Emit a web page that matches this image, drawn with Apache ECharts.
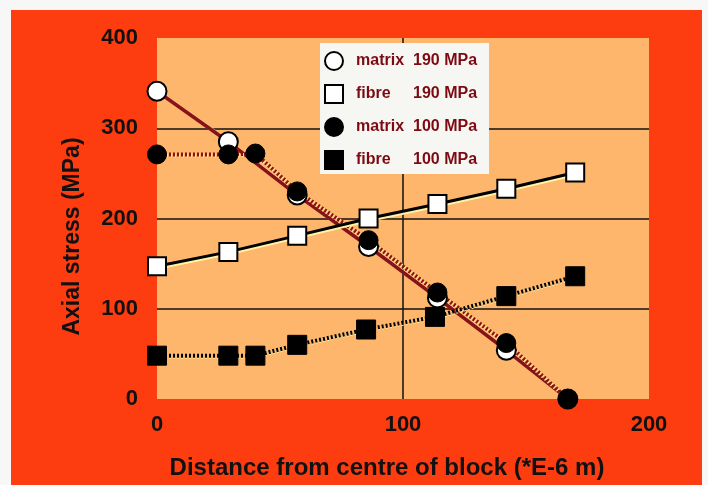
<!DOCTYPE html>
<html>
<head>
<meta charset="utf-8">
<script src="https://cdn.jsdelivr.net/npm/echarts@6/dist/echarts.min.js"></script>
<style>
  html, body { margin: 0; padding: 0; background: #f7f7f7; }
  #chart { width: 708px; height: 485px; }
</style>
</head>
<body>
<div id="chart"></div>
<script>
// values
const xMatrix190 = [0, 29, 57, 86, 114, 142, 167]
const matrix190 = [341, 285, 226, 169, 112, 54, 0]
const xMatrix100 = [0, 29, 40, 57, 86, 114, 142, 167]
const matrix100 = [271, 271, 272, 230, 176, 118, 62, 0]
const xFibre190 = [0, 29, 57, 86, 114, 142, 170]
const fibre190 = [147, 163, 181, 200, 216, 233, 251]
const xFibre100 = [0, 29, 40, 57, 85, 113, 142, 170]
const fibre100 = [48, 48, 48, 60, 77, 91, 114, 136]
const seriesNames = ['matrix 190 MPa', 'fibre 190 MPa', 'matrix 100 MPa', 'fibre 100 MPa']

const pairs = (xs, ys) => xs.map((x, i) => [x, ys[i]])

const font = 'Liberation Sans, Arial, Helvetica, sans-serif'
const ink = '#111'
const legendRed = '#7d0a12'

const chart = echarts.init(document.getElementById('chart'))
chart.setOption({
  backgroundColor: 'transparent',
  animation: false,
  textStyle: { fontFamily: font },
  graphic: [
    {
      type: 'rect', silent: true, z: -10,
      shape: { x: 11, y: 10, width: 691, height: 475 },
      style: { fill: '#fd3c10' }
    }
  ],
  grid: {
    left: 157, right: 59, top: 38, bottom: 86,
    show: true, backgroundColor: '#fdb66c', borderWidth: 0
  },
  legend: {
    orient: 'vertical',
    left: 320,
    top: 43,
    padding: [8, 12, 4, 4],
    itemGap: 13,
    itemWidth: 18,
    itemHeight: 18,
    backgroundColor: '#f6f6f3',
    data: [
      { name: seriesNames[0], icon: 'circle' },
      { name: seriesNames[1], icon: 'rect' },
      { name: seriesNames[2], icon: 'circle' },
      { name: seriesNames[3], icon: 'rect' }
    ],
    formatter: name => {
      const p = name.split(' ')
      return '{a|' + p[0] + '}{b|' + p[1] + ' ' + p[2] + '}'
    },
    textStyle: {
      fontSize: 16, fontWeight: 'bold', color: legendRed,
      rich: {
        a: { width: 57, padding: [0, 0, 0, 8], lineHeight: 18, fontSize: 16, fontWeight: 'bold', color: legendRed, fontFamily: font },
        b: { lineHeight: 18, fontSize: 16, fontWeight: 'bold', color: legendRed, fontFamily: font }
      }
    }
  },
  xAxis: {
    type: 'value',
    min: 0, max: 200, interval: 100,
    axisLine: { show: false },
    axisTick: { show: false },
    splitLine: { show: true, showMinLine: false, showMaxLine: false, lineStyle: { color: ink, width: 1.5 } },
    axisLabel: { fontSize: 22, fontWeight: 'bold', color: ink, margin: 15 },
    name: 'Distance from centre of block (*E-6 m)',
    nameLocation: 'middle',
    nameGap: 57,
    nameTextStyle: { fontSize: 24, fontWeight: 'bold', color: ink, padding: [0, 32, 0, 0] }
  },
  yAxis: {
    type: 'value',
    min: 0, max: 400, interval: 100,
    axisLine: { show: false },
    axisTick: { show: false },
    splitLine: { show: true, showMinLine: false, showMaxLine: false, lineStyle: { color: ink, width: 1.5 } },
    axisLabel: { fontSize: 22, fontWeight: 'bold', color: ink, margin: 19 },
    name: 'Axial stress (MPa)',
    nameLocation: 'middle',
    nameGap: 73,
    nameTextStyle: { fontSize: 23, fontWeight: 'bold', color: ink, padding: [0, 36, 0, 0] }
  },
  series: [
    {
      name: seriesNames[0],
      type: 'line',
      data: pairs(xMatrix190, matrix190),
      symbol: 'circle',
      symbolSize: 19,
      itemStyle: { color: '#fff', borderColor: '#000', borderWidth: 2 },
      lineStyle: { color: '#86121a', width: 3.5, shadowColor: '#ffd98a', shadowBlur: 0, shadowOffsetX: 2, shadowOffsetY: 1 }
    },
    {
      name: seriesNames[2],
      type: 'line',
      data: pairs(xMatrix100, matrix100),
      symbol: 'circle',
      symbolSize: 19,
      itemStyle: { color: '#000', borderColor: '#000', borderWidth: 1 },
      lineStyle: { color: '#8e1010', width: 4, type: [2, 2], shadowColor: '#ffe08a', shadowBlur: 0, shadowOffsetX: 1, shadowOffsetY: 1 }
    },
    {
      name: seriesNames[1],
      type: 'line',
      data: pairs(xFibre190, fibre190),
      symbol: 'rect',
      symbolSize: 18,
      itemStyle: { color: '#fff', borderColor: '#000', borderWidth: 2 },
      lineStyle: { color: '#000', width: 3, shadowColor: '#fff3a6', shadowBlur: 0, shadowOffsetX: 0, shadowOffsetY: 2 }
    },
    {
      name: seriesNames[3],
      type: 'line',
      data: pairs(xFibre100, fibre100),
      symbol: 'rect',
      symbolSize: 19,
      itemStyle: { color: '#000', borderColor: '#000', borderWidth: 1 },
      lineStyle: { color: '#000', width: 4, type: [2, 2], shadowColor: '#fff3a6', shadowBlur: 0, shadowOffsetX: 0, shadowOffsetY: 1 }
    }
  ]
})
</script>
</body>
</html>
